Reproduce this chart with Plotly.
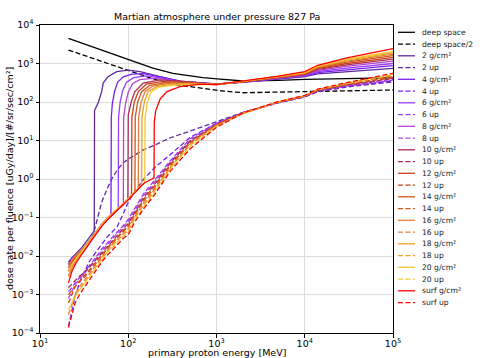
import plotly.graph_objects as go

# energies [MeV] and dose rate per fluence values
deep_E = [21, 30, 50, 75, 100, 140, 190, 320, 700, 1100, 2000, 5000, 10000, 30000, 100000]
deep_D = [4500, 3400, 2200, 1650, 1290, 980, 763, 556, 430, 395, 351, 365, 389, 405, 427]
half_D = [2240, 1700, 1100, 820, 650, 500, 400, 290, 220, 196, 174, 180, 186, 195, 205]

s2_E = [21, 23, 26, 30, 34, 38, 41.2, 41.5, 46, 50, 52, 59, 74, 100, 136, 229, 385, 1000, 2000, 5000, 10000, 14000, 30000, 100000]
s2_D = [0.007, 0.009, 0.012, 0.017, 0.025, 0.033, 0.045, 60, 100, 186, 310, 455, 615, 675, 615, 455, 350, 295, 325, 395, 455, 540, 620, 750]
s4_E = [21, 23, 26, 30, 34, 38, 44, 52, 63.7, 64.3, 66, 70, 76, 88, 110, 150, 230, 400, 1000, 2000, 5000, 10000, 14000, 30000, 100000]
s4_D = [0.006, 0.009, 0.011, 0.014, 0.02, 0.028, 0.045, 0.075, 0.12, 40, 90, 190, 330, 450, 530, 545, 450, 345, 292, 328, 405, 470, 580, 690, 880]
s6_E = [21, 23, 26, 30, 34, 38, 44, 52, 64, 77, 77.6, 81, 86, 95, 115, 160, 250, 400, 1000, 2000, 5000, 10000, 14000, 30000, 100000]
s6_D = [0.005, 0.007, 0.01, 0.013, 0.018, 0.026, 0.04, 0.07, 0.115, 0.17, 40, 100, 190, 320, 430, 475, 410, 335, 290, 330, 412, 485, 620, 760, 1000]
s8_E = [21, 23, 26, 30, 34, 38, 44, 52, 64, 77, 88, 88.6, 94, 100, 112, 135, 190, 280, 450, 1000, 2000, 5000, 10000, 14000, 30000, 100000]
s8_D = [0.004, 0.006, 0.009, 0.012, 0.017, 0.025, 0.04, 0.068, 0.11, 0.165, 0.22, 40, 100, 180, 300, 380, 410, 380, 320, 290, 332, 420, 500, 660, 840, 1150]
s10_E = [21, 23, 26, 30, 34, 38, 44, 52, 64, 77, 88, 99, 100, 108, 119, 148, 229, 385, 1000, 2000, 5000, 10000, 14000, 30000, 100000]
s10_D = [0.003, 0.005, 0.008, 0.012, 0.018, 0.026, 0.042, 0.07, 0.11, 0.16, 0.22, 0.3, 46, 100, 186, 310, 375, 350, 288, 334, 428, 515, 700, 920, 1300]
s12_E = [21, 23, 26, 30, 34, 38, 44, 52, 64, 77, 88, 99, 109, 110, 117, 130, 160, 240, 400, 1000, 2000, 5000, 10000, 14000, 30000, 100000]
s12_D = [0.006, 0.008, 0.01, 0.013, 0.019, 0.027, 0.043, 0.07, 0.115, 0.165, 0.22, 0.3, 0.38, 40, 100, 186, 290, 340, 330, 287, 336, 435, 530, 740, 1000, 1450]
s14_E = [21, 23, 26, 30, 34, 38, 44, 52, 64, 77, 88, 99, 109, 119, 120, 128, 142, 175, 260, 450, 1000, 2000, 5000, 10000, 14000, 30000, 100000]
s14_D = [0.004, 0.007, 0.01, 0.014, 0.02, 0.028, 0.045, 0.072, 0.118, 0.17, 0.225, 0.3, 0.38, 0.47, 40, 100, 186, 270, 315, 315, 285, 338, 442, 545, 770, 1080, 1600]
s16_E = [21, 23, 26, 30, 34, 38, 44, 52, 64, 77, 88, 99, 109, 119, 130, 131, 140, 155, 190, 280, 500, 1000, 2000, 5000, 10000, 14000, 30000, 100000]
s16_D = [0.005, 0.008, 0.011, 0.015, 0.021, 0.029, 0.046, 0.074, 0.12, 0.17, 0.225, 0.3, 0.38, 0.47, 0.58, 40, 100, 186, 260, 300, 305, 284, 340, 450, 560, 800, 1150, 1750]
s18_E = [21, 23, 26, 30, 34, 38, 44, 52, 64, 77, 88, 99, 109, 119, 130, 142, 143, 152, 168, 210, 300, 550, 1000, 2000, 5000, 10000, 14000, 30000, 100000]
s18_D = [0.003, 0.005, 0.008, 0.012, 0.018, 0.027, 0.044, 0.072, 0.118, 0.17, 0.225, 0.3, 0.38, 0.47, 0.58, 0.7, 40, 100, 186, 250, 285, 295, 283, 342, 455, 575, 830, 1220, 1900]
s20_E = [21, 23, 26, 30, 34, 38, 44, 52, 64, 77, 88, 99, 109, 119, 130, 142, 154, 155, 165, 182, 225, 330, 600, 1000, 2000, 5000, 10000, 14000, 30000, 100000]
s20_D = [0.004, 0.006, 0.009, 0.013, 0.019, 0.027, 0.044, 0.071, 0.116, 0.168, 0.222, 0.3, 0.38, 0.47, 0.58, 0.7, 0.82, 40, 100, 186, 245, 275, 288, 282, 343, 462, 590, 860, 1290, 2050]
sS_E = [21, 23, 26, 30, 34, 38, 44, 52, 64, 77, 88, 99, 109, 119, 130, 142, 154, 175, 196, 197, 205, 230, 275, 385, 650, 1000, 2000, 5000, 10000, 14000, 30000, 100000]
sS_D = [0.002, 0.004, 0.007, 0.011, 0.017, 0.025, 0.04, 0.066, 0.11, 0.16, 0.21, 0.28, 0.36, 0.45, 0.56, 0.68, 0.8, 0.95, 1.07, 30, 60, 120, 186, 250, 290, 282, 345, 470, 615, 900, 1400, 2450]

up_E = [21, 23, 25, 28, 32, 36, 40, 45, 50, 57, 65, 75, 87, 100, 120, 150, 200, 300, 500, 1000, 2000, 5000, 10000, 14000, 30000, 100000]
u2_D = [0.005, 0.006, 0.008, 0.011, 0.015, 0.022, 0.035, 0.1, 0.25, 0.52, 1.0, 1.7, 2.6, 3.3, 4.3, 5.8, 7.6, 11.8, 17.5, 31, 54, 95, 135, 185, 245, 335]
u4_D = [0.00015, 0.0004, 0.0009, 0.002, 0.004, 0.007, 0.01, 0.014, 0.02, 0.03, 0.042, 0.058, 0.12, 0.25, 0.5, 1.0, 2.0, 4.3, 12, 28, 53, 96, 137, 190, 255, 350]
u6_D = [0.0012, 0.0015, 0.002, 0.0028, 0.004, 0.0055, 0.0075, 0.011, 0.015, 0.021, 0.03, 0.042, 0.06, 0.09, 0.18, 0.42, 0.95, 3.0, 11, 28, 53, 97, 139, 195, 262, 370]
u8_D = [0.0008, 0.0012, 0.0018, 0.0025, 0.0035, 0.005, 0.007, 0.01, 0.013, 0.019, 0.027, 0.038, 0.055, 0.08, 0.16, 0.38, 0.85, 2.8, 10, 27, 52, 98, 140, 198, 268, 390]
u10_D = [0.0015, 0.0019, 0.0023, 0.003, 0.0038, 0.005, 0.0065, 0.009, 0.012, 0.017, 0.024, 0.034, 0.05, 0.07, 0.14, 0.33, 0.75, 2.6, 9.5, 26, 52, 98, 141, 200, 275, 410]
u12_D = [0.0006, 0.001, 0.0016, 0.0022, 0.003, 0.0042, 0.0058, 0.008, 0.011, 0.016, 0.022, 0.031, 0.046, 0.064, 0.13, 0.3, 0.68, 2.4, 9, 26, 52, 99, 142, 203, 282, 430]
u14_D = [0.001, 0.0013, 0.0017, 0.0022, 0.0028, 0.0038, 0.0052, 0.0072, 0.01, 0.015, 0.021, 0.029, 0.042, 0.058, 0.12, 0.27, 0.6, 2.2, 8.5, 25, 51, 99, 143, 206, 290, 455]
u16_D = [0.0003, 0.0006, 0.001, 0.0016, 0.0024, 0.0034, 0.0048, 0.0068, 0.0095, 0.014, 0.02, 0.027, 0.039, 0.052, 0.11, 0.24, 0.55, 2.0, 8, 25, 51, 100, 144, 208, 298, 480]
u18_D = [0.0003, 0.0005, 0.0009, 0.0014, 0.0021, 0.003, 0.0043, 0.006, 0.0085, 0.013, 0.018, 0.025, 0.035, 0.046, 0.1, 0.21, 0.5, 1.9, 7.5, 24, 51, 100, 145, 210, 305, 505]
u20_D = [0.0004, 0.0006, 0.0009, 0.0013, 0.0019, 0.0027, 0.0038, 0.0055, 0.0078, 0.012, 0.016, 0.023, 0.032, 0.042, 0.09, 0.19, 0.45, 1.8, 7, 23, 51, 101, 146, 212, 312, 530]
uS_D = [0.00014, 0.0003, 0.0006, 0.001, 0.0016, 0.0023, 0.0033, 0.0048, 0.007, 0.01, 0.014, 0.02, 0.028, 0.036, 0.08, 0.17, 0.4, 1.6, 6, 22, 52, 102, 148, 215, 320, 556]

depths = ["2", "4", "6", "8", "10", "12", "14", "16", "18", "20", "surf"]
colors = ["#5e2a9c", "#7a1ff2", "#9a3cff", "#b045d6", "#ad2a52", "#c8421c", "#d45518",
          "#e0803a", "#f0a020", "#f5c832", "#ff0000"]
solid = [(s2_E, s2_D), (s4_E, s4_D), (s6_E, s6_D), (s8_E, s8_D), (s10_E, s10_D), (s12_E, s12_D),
         (s14_E, s14_D), (s16_E, s16_D), (s18_E, s18_D), (s20_E, s20_D), (sS_E, sS_D)]
up = [u2_D, u4_D, u6_D, u8_D, u10_D, u12_D, u14_D, u16_D, u18_D, u20_D, uS_D]

xtick_vals = [10, 100, 1000, 10000, 100000]
xtick_text = ["10<sup>1</sup>", "10<sup>2</sup>", "10<sup>3</sup>", "10<sup>4</sup>", "10<sup>5</sup>"]
ytick_vals = [1e-4, 1e-3, 1e-2, 1e-1, 1, 10, 100, 1000, 10000]
ytick_text = ["10<sup>\u22124</sup>", "10<sup>\u22123</sup>", "10<sup>\u22122</sup>", "10<sup>\u22121</sup>",
              "10<sup>0</sup>", "10<sup>1</sup>", "10<sup>2</sup>", "10<sup>3</sup>", "10<sup>4</sup>"]

DASH = "5px,2.5px"
LW = 1.3

fig = go.Figure()
entries = []  # (label, color, dash)

fig.add_trace(go.Scatter(x=deep_E, y=deep_D, mode="lines", line=dict(color="black", width=LW)))
entries.append(("deep space", "black", "solid"))
fig.add_trace(go.Scatter(x=deep_E, y=half_D, mode="lines", line=dict(color="black", width=LW, dash=DASH)))
entries.append(("deep space/2", "black", DASH))

for d, c, (e, v), u in zip(depths, colors, solid, up):
    fig.add_trace(go.Scatter(x=e, y=v, mode="lines", line=dict(color=c, width=LW)))
    entries.append((d + " g/cm\u00b2", c, "solid"))
    fig.add_trace(go.Scatter(x=up_E, y=u, mode="lines", line=dict(color=c, width=LW, dash=DASH)))
    entries.append((d + " up", c, DASH))

# hand-made legend (plotly's own legend rows are too tall for 24 entries)
W, H = 481, 358
L, R, T, B = 40, 88, 25, 25
pw, ph = W - L - R, H - T - B
for i, (lab, c, dash) in enumerate(entries):
    py = 32.3 + 11.75 * i
    yp = (H - B - py) / ph
    fig.add_shape(type="line", xref="paper", yref="paper",
                  x0=(398 - L) / pw, x1=(415 - L) / pw, y0=yp, y1=yp,
                  line=dict(color=c, width=LW, dash=dash))
    fig.add_annotation(xref="paper", yref="paper", x=(420 - L) / pw, y=yp,
                       text=lab, showarrow=False, xanchor="left", yanchor="middle",
                       font=dict(size=7.6, color="#222"))

fig.add_annotation(xref="paper", yref="paper", x=0.5, y=(H - B - 17) / ph,
                   text="Martian atmosphere under pressure 827 Pa", showarrow=False,
                   xanchor="center", yanchor="middle", font=dict(size=9.5, color="black"))
fig.add_annotation(xref="paper", yref="paper", x=0.5, y=(H - B - 352) / ph,
                   text="primary proton energy [MeV]", showarrow=False,
                   xanchor="center", yanchor="middle", font=dict(size=9.5, color="black"))
fig.add_annotation(xref="paper", yref="paper", x=(9 - L) / pw, y=0.5, textangle=-90,
                   text="dose rate per fluence [uGy/day]/[#/sr/sec/cm\u00b2]", showarrow=False,
                   xanchor="center", yanchor="middle", font=dict(size=9.5, color="black"))

axis_common = dict(type="log", showline=True, mirror=True, linecolor="black", linewidth=1,
                   ticks="outside", ticklen=3.5, tickcolor="black", showgrid=True,
                   gridcolor="#dcdcdc", gridwidth=1, zeroline=False, automargin=False,
                   tickfont=dict(size=9.5, color="black"))
fig.update_xaxes(range=[1, 5], tickvals=xtick_vals, ticktext=xtick_text,
                 ticklabelstandoff=-2, **axis_common)
fig.update_yaxes(range=[-4, 4], tickvals=ytick_vals, ticktext=ytick_text, **axis_common)

fig.update_layout(width=W, height=H, margin=dict(l=L, r=R, t=T, b=B, autoexpand=False),
                  plot_bgcolor="white", paper_bgcolor="white", showlegend=False,
                  font=dict(family="DejaVu Sans", color="black"))

# the page's body has an 8px default margin; drop it so the figure sits at the corner
fig.write_html("out.html", config={"displayModeBar": False},
               post_script="document.body.style.margin='0';")
